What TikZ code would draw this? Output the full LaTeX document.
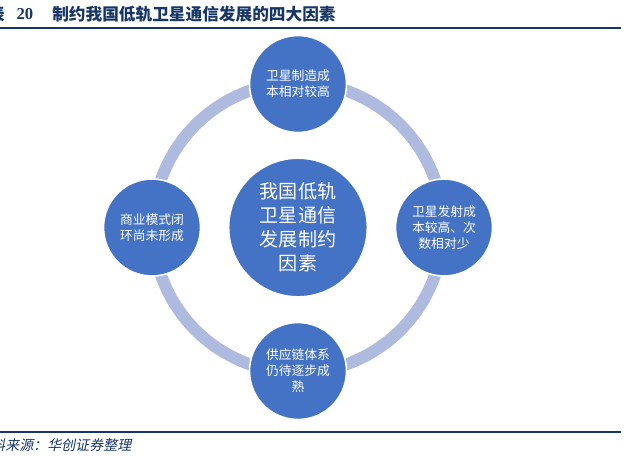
\documentclass[tikz,border=0pt]{standalone}
\usepackage{fontspec}
\setmainfont{Liberation Serif}
\newfontfamily\cjk{Noto Sans CJK SC}
\newfontfamily\cjkit[FakeSlant=0.2]{Noto Sans CJK SC}
\definecolor{ringblue}{RGB}{174,187,222}
\definecolor{discblue}{RGB}{68,114,196}
\definecolor{navy}{RGB}{23,54,104}

\begin{document}
\begin{tikzpicture}[x=0.75pt, y=-0.75pt,
  disc/.style={circle, draw=white, line width=1.2pt, fill=discblue,
               text=white, align=center, inner sep=0pt, minimum size=72.75pt,
               font=\cjk\fontsize{9.6}{12}\selectfont},
  hub/.style={disc, minimum size=104pt, font=\cjk\fontsize{14.3}{18}\selectfont},
  head/.style={inner sep=0pt, text=navy, font=\cjk\bfseries\fontsize{12.5}{15}\selectfont},
  rule/.style={draw=navy, line width=1.3pt}]
\useasboundingbox (0,0) rectangle (632,455);
% caption and rules
\node[head, anchor=east] (tabword) at (5,14) {表};
\node[head, font=\rmfamily\bfseries\fontsize{12.5}{15}\selectfont] (tabno) at (25,14) {20};
\node[head, anchor=west] (title) at (52,14) {制约我国低轨卫星通信发展的四大因素};
\coordinate (rtl) at (0,28);
\coordinate (rtr) at (621,28);
\coordinate (rbl) at (0,432);
\coordinate (rbr) at (621,432);
\draw[rule] (rtl) -- (rtr);
\draw[rule] (rbl) -- (rbr);
\node[inner sep=0pt, anchor=west, text=navy, font=\cjkit\fontsize{10.5}{12}\selectfont]
  (source) at (-23,445) {资料来源：华创证券整理};
% ring behind the four factors
\coordinate (ctr) at (298,227.5);
\draw[ringblue, line width=9pt] (ctr) circle [radius=145];
\node[hub] (core) at (ctr) {我国低轨\\卫星通信\\发展制约\\因素};
\node[disc] (cost) at (298,84) {卫星制造成\\本相对较高};
\node[disc] (launch) at (444,227.5) {卫星发射成\\本较高、次\\数相对少};
\node[disc] (supply) at (298,371) {供应链体系\\仍待逐步成\\熟};
\node[disc] (model) at (152,227.5) {商业模式闭\\环尚未形成};
\end{tikzpicture}
\end{document}
